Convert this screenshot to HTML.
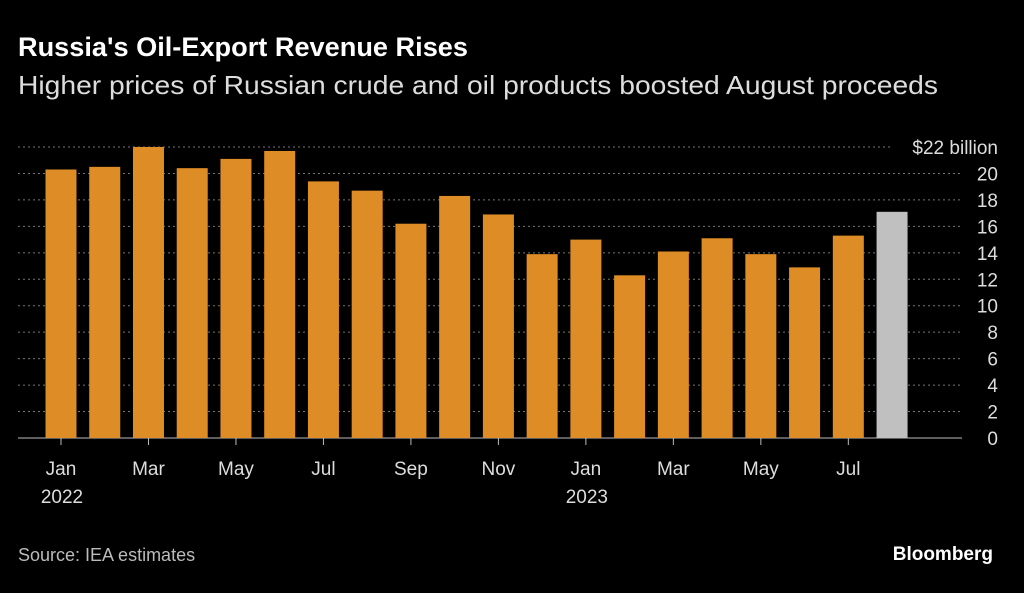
<!DOCTYPE html>
<html><head><meta charset="utf-8"><style>
body{margin:0;background:#000;width:1024px;height:588px;overflow:hidden;font-family:"Liberation Sans",sans-serif;color:#fff}
</style></head><body>
<svg width="1024" height="588" xmlns="http://www.w3.org/2000/svg">
<text x="18" y="56" font-size="27" font-weight="bold" fill="#fff" textLength="450" lengthAdjust="spacingAndGlyphs">Russia's Oil-Export Revenue Rises</text>
<text x="18" y="94" font-size="26" fill="#ddd" textLength="920" lengthAdjust="spacingAndGlyphs">Higher prices of Russian crude and oil products boosted August proceeds</text>
<g id="grid"></g><g id="bars"></g><g id="xaxis"></g>
<text x="18" y="561" font-size="18" fill="#bbb">Source: IEA estimates</text>
<text x="993" y="560" font-size="19" font-weight="bold" fill="#fff" text-anchor="end">Bloomberg</text>
</svg>
<script>
const categories=["Jan 2022","Feb 2022","Mar 2022","Apr 2022","May 2022","Jun 2022","Jul 2022","Aug 2022","Sep 2022","Oct 2022","Nov 2022","Dec 2022","Jan 2023","Feb 2023","Mar 2023","Apr 2023","May 2023","Jun 2023","Jul 2023","Aug 2023"];
const revenue=[20.3,20.5,22.0,20.4,21.1,21.7,19.4,18.7,16.2,18.3,16.9,13.9,15.0,12.3,14.1,15.1,13.9,12.9,15.3,17.1];
const yTicks=[0,2,4,6,8,10,12,14,16,18,20,22];
const xLabels=[[0,"Jan","2022"],[2,"Mar",""],[4,"May",""],[6,"Jul",""],[8,"Sep",""],[10,"Nov",""],[12,"Jan","2023"],[14,"Mar",""],[16,"May",""],[18,"Jul",""]];
const NS="http://www.w3.org/2000/svg";
const y=v=>438-v*(291/22);
const x=i=>61+i*43.74;
function mk(t,a,p){const e=document.createElementNS(NS,t);for(const k in a)e.setAttribute(k,a[k]);p.appendChild(e);return e;}
const grid=document.getElementById('grid');
yTicks.forEach(v=>{
  const l=mk('line',{x1:18,x2:v==22?890:962,y1:y(v),y2:y(v),stroke:v==0?'#bbb':'#777','stroke-width':1,'stroke-dasharray':v==0?'':'2,3'},grid);
  
  
  const t=mk('text',{x:998,y:y(v)+7,'font-size':19,fill:'#ddd','text-anchor':'end'},grid);
  t.textContent=v==22?'$22 billion':String(v);
  
  
});
const bars=document.getElementById('bars');
revenue.forEach((v,i)=>{
  const r=mk('rect',{x:x(i)-15.5,y:y(v),width:31,height:y(0)-y(v),fill:i==revenue.length-1?'#c0c0c0':'#de8c26'},bars);
  
  
});
const xa=document.getElementById('xaxis');
xLabels.forEach(([i,m,yr])=>{
  const tk=mk('line',{x1:x(i),x2:x(i),y1:438,y2:445,stroke:'#bbb'},xa);
  
  
  const t=mk('text',{x:x(i),y:475,'font-size':19,fill:'#ddd','text-anchor':'middle'},xa);
  t.textContent=m;
  
  
  if(yr){const t2=mk('text',{x:x(i)+1,y:503,'font-size':19,fill:'#ddd','text-anchor':'middle'},xa);
  t2.textContent=yr;
  
  }
});
</script>
</body></html>
